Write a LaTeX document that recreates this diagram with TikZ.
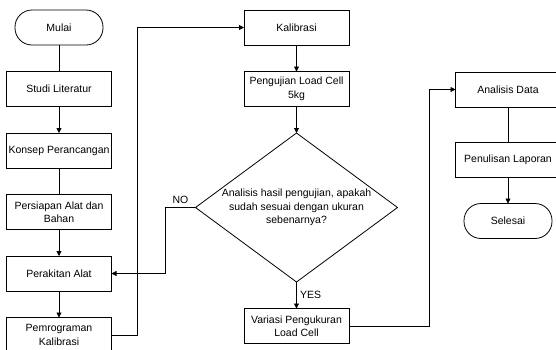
\documentclass[tikz,border=0pt]{standalone}
\usepackage{fontspec}
\setmainfont{Liberation Sans}
\usetikzlibrary{positioning, shapes.geometric, arrows.meta}

\begin{document}
\begin{tikzpicture}[x=1pt, y=-1pt, node distance=26.5pt, line width=0.8pt,
  every node/.style={font=\fontsize{10.5}{13.5}\selectfont},
  proc node/.style={rectangle,draw,outer sep=0pt,minimum width=105pt,minimum height=35pt,align=center,inner sep=2pt},
  term node/.style={rectangle,rounded corners=17pt,draw,outer sep=0pt,minimum width=88pt,minimum height=35pt},
  cond node/.style={diamond,draw,aspect=1.35,outer sep=0pt,minimum width=202pt,minimum height=149pt,inner sep=0pt,align=center},
  arr/.style={-{Triangle[length=5pt,width=5pt]}}]

\useasboundingbox (0,0) rectangle (556,349);

\node[term node] (mulai) at (59,27.5) {Mulai};
\node[proc node] (studi) [below=of mulai] {Studi Literatur};
\node[proc node] (konsep) [below=of studi] {Konsep Perancangan};
\node[proc node] (persiapan) [below=of konsep] {Persiapan Alat dan\\Bahan};
\node[proc node] (perakitan) [below=of persiapan] {Perakitan Alat};
\node[proc node] (program) [below=of perakitan] {Pemrograman\\Kalibrasi};

\node[proc node] (kalibrasi) at (296.5,27.5) {Kalibrasi};
\node[proc node] (pengujian) [below=of kalibrasi] {Pengujian Load Cell\\5kg};
\node[cond node] (cek) [below=of pengujian] {Analisis hasil pengujian, apakah\\sudah sesuai dengan ukuran\\sebenarnya?};
\node[proc node] (variasi) [below=of cek] {Variasi Pengukuran\\Load Cell};

\node[proc node] (analisis) at (508,89.5) {Analisis Data};
\node[proc node] (penulisan) [below=35pt of analisis] {Penulisan Laporan};
\node[term node] (selesai) [below=of penulisan] {Selesai};

\path
(mulai) edge (studi)
(studi) edge[arr] (konsep)
(konsep) edge (persiapan)
(persiapan) edge[arr] (perakitan)
(perakitan) edge[arr] (program)
(kalibrasi) edge[arr] (pengujian)
(pengujian) edge[arr] (cek)
(cek) edge[arr] node[right] {YES} (variasi)
(analisis) edge (penulisan)
(penulisan) edge[arr] (selesai)
;

\draw[arr] (program.east) -- ++(26,0) |- (kalibrasi);
\draw[arr] (cek.west) -- ++(-30,0) node[midway, above] {NO} |- (perakitan);
\draw[arr] (variasi.east) -- ++(80,0) |- (analisis);

\end{tikzpicture}
\end{document}
